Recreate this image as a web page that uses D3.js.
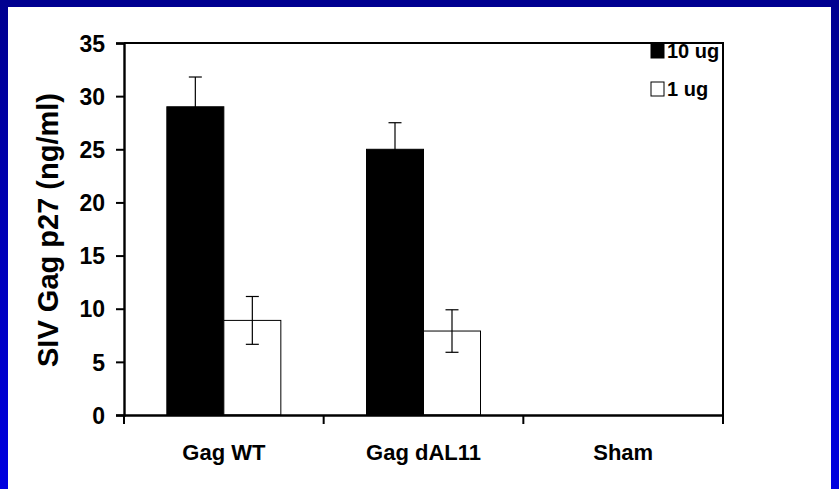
<!DOCTYPE html>
<html>
<head>
<meta charset="utf-8">
<script src="https://cdn.jsdelivr.net/npm/d3@7/dist/d3.min.js"></script>
<style>
	body { margin: 0; background: #fff; }
	text { font-family: "Liberation Sans", Arial, sans-serif; font-weight: bold; fill: #000; }
</style>
</head>
<body>
<svg id="chart" width="839" height="489"></svg>
<script>
const categories = ['Gag WT', 'Gag dAL11', 'Sham'];
const doses = ['10 ug', '1 ug'];
const means10 = [29.0, 25.0, 0];
const errs10 = [2.8, 2.5, 0];
const means1 = [8.9, 7.9, 0];
const errs1 = [2.25, 2.0, 0];
const yTicks = [0, 5, 10, 15, 20, 25, 30, 35];

const svg = d3.select('#chart');
const W = 839, H = 489;

// slide background
const grad = svg.append('defs').append('linearGradient')
	.attr('id', 'bg').attr('x1', 0).attr('y1', 0).attr('x2', 0).attr('y2', 1);
grad.append('stop').attr('offset', '0%').attr('stop-color', '#000090');
grad.append('stop').attr('offset', '100%').attr('stop-color', '#0000e0');
svg.append('rect').attr('width', W).attr('height', H).attr('fill', 'url(#bg)');
svg.append('rect').attr('x', 8).attr('y', 7).attr('width', 823).attr('height', H - 7).attr('fill', '#fff');

const m = {left: 124, top: 43, right: 723, bottom: 415};

const x = d3.scaleBand().domain(categories).range([m.left, m.right]);
const y = d3.scaleLinear().domain([0, 35]).range([m.bottom, m.top]);
const barW = 57;

const series = [
	{key: doses[0], means: means10, errs: errs10, fill: '#000', off: -barW},
	{key: doses[1], means: means1, errs: errs1, fill: '#fff', off: 0}
];

const g = svg.append('g');

series.forEach(s => {
	const rows = categories
		.map((c, i) => ({cat: c, v: s.means[i], e: s.errs[i]}))
		.filter(d => d.v > 0);
	const left = d => x(d.cat) + x.bandwidth() / 2 + s.off;

	g.selectAll(null).data(rows).enter()
		.append('rect')
			.attr('x', left)
			.attr('y', d => y(d.v))
			.attr('width', barW)
			.attr('height', d => y(0) - y(d.v))
			.attr('fill', s.fill)
			.attr('stroke', '#000')
			.attr('stroke-width', 1);

	const eb = g.selectAll(null).data(rows).enter()
		.append('g')
			.attr('stroke', '#000')
			.attr('stroke-width', 1.2)
			.attr('transform', d => `translate(${left(d) + barW / 2},0)`);
	eb.append('line')
		.attr('y1', d => y(d.v + d.e))
		.attr('y2', d => y(d.v - d.e));
	eb.append('line')
		.attr('x1', -6.5).attr('x2', 6.5)
		.attr('y1', d => y(d.v + d.e)).attr('y2', d => y(d.v + d.e));
	eb.append('line')
		.attr('x1', -6.5).attr('x2', 6.5)
		.attr('y1', d => y(d.v - d.e)).attr('y2', d => y(d.v - d.e));
});

// frame top / right
svg.append('path')
	.attr('d', `M${m.left},${m.top}H${m.right}V${m.bottom}`)
	.attr('fill', 'none').attr('stroke', '#000').attr('stroke-width', 2);

// y axis
const yAxis = svg.append('g')
	.attr('transform', `translate(${m.left},0)`)
	.call(d3.axisLeft(y).tickValues(yTicks).tickSize(8).tickPadding(11));
yAxis.select('.domain').attr('stroke-width', 2.4);
yAxis.selectAll('.tick line').attr('stroke-width', 2);
yAxis.selectAll('text').style('font-size', '23px').attr('dy', '0.36em');

// x axis
const xAxis = svg.append('g')
	.attr('transform', `translate(0,${m.bottom})`)
	.call(d3.axisBottom(x).tickSize(0).tickPadding(29));
xAxis.select('.domain').attr('stroke-width', 2.4);
xAxis.selectAll('text').style('font-size', '22px');
xAxis.selectAll('line.sep')
	.data(d3.range(categories.length + 1))
	.enter().append('line')
		.attr('class', 'sep')
		.attr('x1', i => m.left + i * x.bandwidth())
		.attr('x2', i => m.left + i * x.bandwidth())
		.attr('y1', 0).attr('y2', 9)
		.attr('stroke', '#000').attr('stroke-width', 2);

// y title
svg.append('text')
	.attr('transform', `translate(58,230) rotate(-90)`)
	.attr('text-anchor', 'middle')
	.style('font-size', '29px')
	.text('SIV Gag p27 (ng/ml)');

// legend
const legend = svg.append('g').attr('transform', 'translate(651,43)');
series.forEach((s, i) => {
	const row = legend.append('g').attr('transform', `translate(0,${i * 38})`);
	row.append('rect').attr('y', 1).attr('width', 13).attr('height', 14)
		.attr('fill', s.fill).attr('stroke', '#000').attr('stroke-width', 1);
	row.append('text').attr('x', 16).attr('y', 15)
		.style('font-size', '20px')
		.text(s.key);
});
</script>
</body>
</html>
